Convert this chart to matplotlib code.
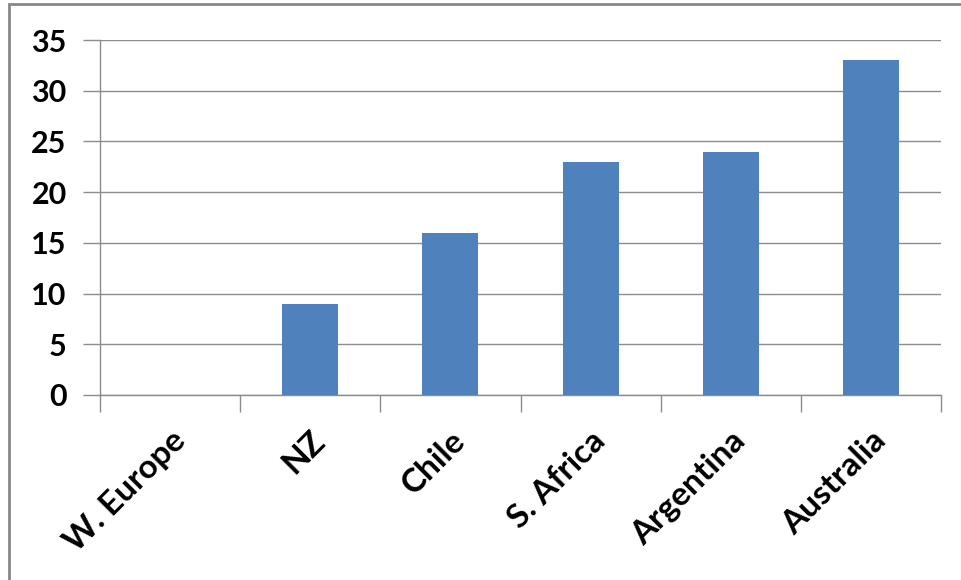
import matplotlib.pyplot as plt
import matplotlib.patches as mpatches
import numpy as np

regions = ['W. Europe', 'NZ', 'Chile', 'S. Africa', 'Argentina', 'Australia']
values = [0, 9, 16, 23, 24, 33]
yticks = [0, 5, 10, 15, 20, 25, 30, 35]

plt.rcParams['font.family'] = ['Lato', 'DejaVu Sans']
plt.rcParams['font.weight'] = 'bold'

fig = plt.figure(figsize=(9.61, 5.80), dpi=100)
ax = fig.add_axes([100/961, 185/580, 841/961, 355/580])

x = np.arange(len(regions))
ax.bar(x, values, width=0.4, color='#4F81BD', zorder=3)

ax.set_xlim(-0.5, len(regions) - 0.5)
ax.set_ylim(0, 35)
ax.set_yticks(yticks)
ax.set_yticklabels([str(v) for v in yticks], fontsize=22, fontweight='bold')
ax.yaxis.grid(True, color='#8c8c8c', linewidth=1, zorder=0)

# category ticks between bars, labels at centers
ax.set_xticks(np.arange(len(regions) + 1) - 0.5)
ax.set_xticklabels([])
ax.set_xticks(x, minor=True)
ax.set_xticklabels(regions, minor=True, rotation=45, ha='right', va='top',
                   rotation_mode='anchor', fontsize=24, fontweight='bold')
ax.tick_params(axis='x', which='minor', length=0, pad=22)
ax.tick_params(axis='x', which='major', length=12, width=1, color='#8c8c8c')
ax.tick_params(axis='y', length=12, width=1, color='#8c8c8c', pad=12)

for s in ['top', 'right']:
    ax.spines[s].set_visible(False)
for s in ['left', 'bottom']:
    ax.spines[s].set_color('#8c8c8c')
    ax.spines[s].set_linewidth(1)

# outer chart border
fig.patches.append(mpatches.Rectangle((9/961, -0.1), 1.2, 1.1 - 4/580,
                                      transform=fig.transFigure, fill=False,
                                      edgecolor='#888888', linewidth=2))

fig.savefig('out.png', dpi=100)
